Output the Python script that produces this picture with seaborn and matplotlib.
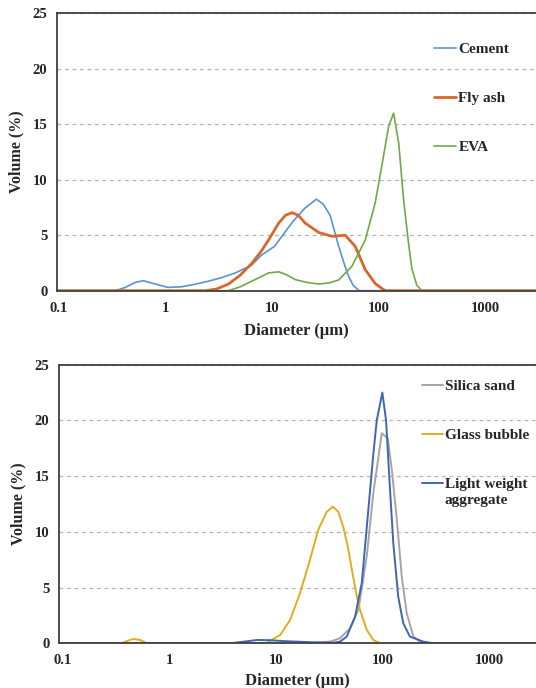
import numpy as np
import pandas as pd
import seaborn as sns
import matplotlib.pyplot as plt

# particle size distributions, diameter in um, volume in %
cement_d = [0.096, 0.34, 0.42, 0.52, 0.62, 0.8, 1.05, 1.4, 1.82, 2.5, 3.28, 4.5, 6.4, 7.9, 10.5,
            12.3, 15.5, 20, 25.9, 30, 34.8, 41.9, 50.3, 57, 65, 2960]
cement_v = [0, 0, 0.3, 0.75, 0.9, 0.6, 0.3, 0.35, 0.55, 0.85, 1.15, 1.6, 2.3, 3.2, 4.0,
            4.9, 6.2, 7.4, 8.25, 7.8, 6.8, 4.0, 1.6, 0.5, 0, 0]

flyash_d = [0.096, 2.35, 3.0, 3.89, 5.0, 6.4, 7.8, 9.2, 11.5, 13.3, 15.3, 17.5, 20.3, 27.2,
            36.2, 42, 48.2, 59.8, 74.3, 92, 110, 116, 2960]
flyash_v = [0, 0, 0.15, 0.6, 1.4, 2.45, 3.5, 4.55, 6.1, 6.8, 7.03, 6.8, 6.1, 5.25,
            4.9, 4.95, 5.0, 4.0, 1.9, 0.65, 0.1, 0, 0]

eva_d = [0.096, 3.89, 5.0, 6.4, 8.0, 9.2, 11.5, 13.5, 16.4, 21, 27.2, 34, 41.8, 55.7, 74.3,
         92, 106, 123, 137, 153, 170, 189, 203, 226, 251, 2960]
eva_v = [0, 0, 0.35, 0.85, 1.3, 1.6, 1.7, 1.45, 1.0, 0.75, 0.6, 0.7, 0.96, 2.2, 4.57,
         7.9, 11.2, 14.8, 16.0, 13.3, 8.2, 4.3, 2.0, 0.5, 0, 0]

silica_d = [0.092, 20, 31.9, 39.6, 49.2, 58.9, 70.5, 81.3, 97.5, 111, 121, 135, 150, 167,
            193, 223, 245, 2720]
silica_v = [0, 0, 0.15, 0.45, 1.35, 3.0, 7.8, 13.5, 18.85, 18.4, 15.6, 11.1, 6.0, 2.7,
            0.6, 0.15, 0, 0]

glass_d = [0.092, 0.354, 0.41, 0.458, 0.53, 0.615, 6.0, 8.15, 10.9, 13.5, 16.7, 20.7, 24.8,
           29.7, 33.9, 38.2, 42.6, 47, 52, 57, 61, 70.5, 81.3, 94, 2720]
glass_v = [0, 0, 0.25, 0.39, 0.3, 0, 0, 0.05, 0.75, 2.1, 4.5, 7.5, 10.2,
           11.8, 12.26, 11.8, 10.4, 8.6, 6.2, 4.2, 3.0, 1.2, 0.3, 0, 0]

lwa_d = [0.092, 3.7, 5.0, 6.6, 8.5, 11.7, 20.7, 34.3, 39.6, 45.8, 54.8, 63.3, 73, 81.3, 87.5,
         98.7, 107, 115, 125, 139, 155, 179, 239, 300, 2720]
lwa_v = [0, 0, 0.15, 0.3, 0.28, 0.2, 0.1, 0.05, 0.15, 0.6, 2.4, 5.4, 12, 17, 20,
         22.5, 20, 14.7, 9.0, 4.2, 1.8, 0.6, 0.15, 0, 0]

xticks = [0.1, 1, 10, 100, 1000]
xticklabels = ["0.1", "1", "10", "100", "1000"]
yticks = [0, 5, 10, 15, 20, 25]

sns.set_style("white")
plt.rcParams['font.family'] = ['Liberation Serif', 'DejaVu Serif']
plt.rcParams['font.weight'] = 'bold'

fig = plt.figure(figsize=(5.36, 6.88), dpi=100)
ax1 = fig.add_axes([57 / 536, 1 - 290.7 / 688, 1 - 57 / 536, 277.4 / 688])
ax2 = fig.add_axes([59 / 536, 1 - 643.3 / 688, 1 - 59 / 536, 278.6 / 688])


def style_axes(ax, xlim, xpad):
    ax.set_xscale('log')
    ax.set_xlim(*xlim)
    ax.set_ylim(0, 25)
    ax.set_xticks(xticks)
    ax.set_xticklabels(xticklabels)
    ax.minorticks_off()
    ax.set_yticks(yticks)
    ax.tick_params(length=0, labelsize=10.5)
    ax.tick_params(axis='x', pad=8)
    ax.tick_params(axis='y', pad=7)
    for lab in ax.get_xticklabels() + ax.get_yticklabels():
        lab.set_fontweight('bold')
    ax.yaxis.grid(True, ls=(0, (3, 3)), color='#b5b5b5', lw=0.9)
    ax.xaxis.grid(False)
    ax.set_axisbelow(True)
    for s in ['left', 'bottom', 'top']:
        ax.spines[s].set_color('#404040')
        ax.spines[s].set_linewidth(1.3)
    ax.spines['right'].set_visible(False)
    ax.set_ylabel('Volume (%)', fontsize=11.5, fontweight='bold', labelpad=6)
    ax.set_xlabel('Diameter (\u00b5m)', fontsize=12, fontweight='bold', labelpad=xpad)


# top panel
sns.lineplot(x=cement_d, y=cement_v, ax=ax1, color='#5b93cf', lw=1.2, label='Cement')
sns.lineplot(x=flyash_d, y=flyash_v, ax=ax1, color='#d5682a', lw=2.0, label='Fly ash')
sns.lineplot(x=eva_d, y=eva_v, ax=ax1, color='#6eaa48', lw=1.2, label='EVA')
style_axes(ax1, (0.096, 2960), 6)

# bottom panel
sns.lineplot(x=silica_d, y=silica_v, ax=ax2, color='#a5a5a5', lw=1.4, label='Silica sand')
sns.lineplot(x=glass_d, y=glass_v, ax=ax2, color='#e0ad1c', lw=1.4, label='Glass bubble')
sns.lineplot(x=lwa_d, y=lwa_v, ax=ax2, color='#3f66b4', lw=1.4, label='Light weight')
style_axes(ax2, (0.092, 2720), 4)

leg_font = {'family': 'Liberation Serif', 'weight': 'bold', 'size': 11}
ax1.legend(loc='upper left', bbox_to_anchor=(434 / 536, 1 - 42.3 / 688),
           bbox_transform=fig.transFigure, frameon=False, prop=leg_font,
           handlelength=1.45, handletextpad=0.15, labelspacing=2.32,
           borderpad=0, borderaxespad=0)
ax2.legend(loc='upper left', bbox_to_anchor=(422 / 536, 1 - 379.3 / 688),
           bbox_transform=fig.transFigure, frameon=False, prop=leg_font,
           handlelength=1.35, handletextpad=0.15, labelspacing=2.32,
           borderpad=0, borderaxespad=0)
fig.text(444.5 / 536, 1 - 500.5 / 688, 'aggregate', fontsize=11, fontweight='bold',
         va='center', ha='left')

fig.savefig('out.png', dpi=100)
